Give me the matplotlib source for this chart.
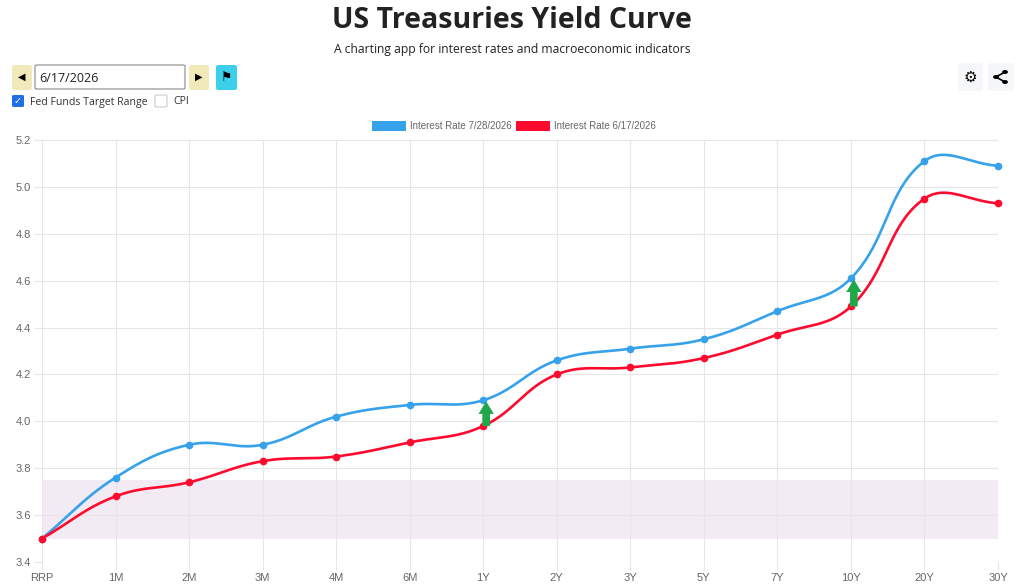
import numpy as np
import matplotlib
matplotlib.use("Agg")
from matplotlib import pyplot as plt
from matplotlib.patches import FancyBboxPatch, Rectangle, Circle

tenors = ["RRP", "1M", "2M", "3M", "4M", "6M", "1Y", "2Y", "3Y", "5Y", "7Y", "10Y", "20Y", "30Y"]
rates_new = [3.50, 3.76, 3.90, 3.90, 4.02, 4.07, 4.09, 4.26, 4.31, 4.35, 4.47, 4.61, 5.11, 5.09]
rates_old = [3.50, 3.68, 3.74, 3.83, 3.85, 3.91, 3.98, 4.20, 4.23, 4.27, 4.37, 4.49, 4.95, 4.93]
label_new = "Interest Rate 7/28/2026"
label_old = "Interest Rate 6/17/2026"
fed_low = 3.50
fed_high = 3.75
arrow_tenors = ["1Y", "10Y"]
date_text = "6/17/2026"

BLUE = "#36a2eb"
RED = "#ff0a2f"
GREEN = "#1fa84a"
plt.rcParams['font.family'] = ['Liberation Sans', 'DejaVu Sans']


def spline(xs, ys, t=0.4, sx=73.5, sy=234.4):
    # chart.js style bezier, control points worked out in pixel space
    px = np.array(xs, float) * sx
    py = np.array(ys, float) * sy
    n = len(px)
    cp_prev = np.zeros((n, 2))
    cp_next = np.zeros((n, 2))
    for i in range(n):
        a = max(i - 1, 0)
        b = min(i + 1, n - 1)
        d01 = np.hypot(px[i] - px[a], py[i] - py[a])
        d12 = np.hypot(px[b] - px[i], py[b] - py[i])
        tot = d01 + d12
        s01 = d01 / tot if tot else 0
        s12 = d12 / tot if tot else 0
        dx = px[b] - px[a]
        dy = py[b] - py[a]
        cp_prev[i] = [px[i] - t * s01 * dx, py[i] - t * s01 * dy]
        cp_next[i] = [px[i] + t * s12 * dx, py[i] + t * s12 * dy]
    outx, outy = [], []
    u = np.linspace(0, 1, 40)
    for i in range(n - 1):
        p0 = np.array([px[i], py[i]])
        p3 = np.array([px[i + 1], py[i + 1]])
        p1 = cp_next[i]
        p2 = cp_prev[i + 1]
        pts = ((1 - u) ** 3)[:, None] * p0 + (3 * (1 - u) ** 2 * u)[:, None] * p1 \
            + (3 * (1 - u) * u ** 2)[:, None] * p2 + (u ** 3)[:, None] * p3
        outx.extend(pts[:, 0] / sx)
        outy.extend(pts[:, 1] / sy)
    return np.array(outx), np.array(outy)


fig = plt.figure(figsize=(10.24, 5.85), dpi=100)
W, H = 1024, 585


def fx(x):
    return x / W


def fy(y):
    return 1 - y / H


ax = fig.add_axes([fx(42), fy(562), fx(998) - fx(42), fy(140) - fy(562)])
xs = np.arange(len(tenors))

ax.axhspan(fed_low, fed_high, color="#f3ebf3", zorder=0, lw=0)

for vals, col in [(rates_new, BLUE), (rates_old, RED)]:
    cx, cy = spline(xs, vals)
    ax.plot(cx, cy, color=col, lw=1.9, zorder=3, clip_on=False, solid_capstyle="round")
    ax.plot(xs, vals, "o", color=col, ms=4.5, zorder=4, clip_on=False)

for t in arrow_tenors:
    i = tenors.index(t)
    ax.annotate("", xy=(i + 0.04, rates_new[i] - 0.005), xytext=(i + 0.04, rates_old[i]),
                arrowprops=dict(arrowstyle="simple,head_width=1.1,head_length=0.9,tail_width=0.55",
                                color=GREEN, lw=0, shrinkA=0, shrinkB=0), zorder=5)

ax.set_xlim(0, len(tenors) - 1)
ax.set_ylim(3.4, 5.2)
ax.set_xticks(xs)
ax.set_xticklabels(tenors)
ax.set_yticks(np.arange(3.4, 5.21, 0.2))
ax.set_yticklabels(["%.1f" % v for v in np.arange(3.4, 5.21, 0.2)])
ax.grid(True, color="#e6e6e6", lw=0.8, zorder=0)
ax.set_axisbelow(True)
for s in ax.spines.values():
    s.set_visible(False)
ax.tick_params(axis="both", colors="#e6e6e6", labelcolor="#666666", labelsize=8, length=6, width=0.8, pad=2)

# legend boxes
for x0, lab, col in [(372, label_new, BLUE), (516, label_old, RED)]:
    fig.patches.append(Rectangle((fx(x0), fy(131)), 34 / W, 10 / H, transform=fig.transFigure,
                                 facecolor=col, edgecolor="none"))
    fig.text(fx(x0 + 38), fy(126), lab, fontsize=7, color="#666666", va="center", ha="left")

# title
fig.text(0.5, fy(21), "US Treasuries Yield Curve", fontsize=20.5, fontweight="bold", ha="center",
         va="center", color="#222222", family=["Open Sans", "DejaVu Sans"])
fig.text(0.5, fy(50), "A charting app for interest rates and macroeconomic indicators", fontsize=8.7,
         ha="center", va="center", color="#222222", family=["Open Sans", "DejaVu Sans"])


def box(x0, y0, w, h, fc, ec="none", r=3):
    fig.patches.append(FancyBboxPatch((fx(x0), fy(y0 + h)), w / W, h / H,
                                      boxstyle="round,pad=0,rounding_size=%f" % (r / W),
                                      transform=fig.transFigure, facecolor=fc, edgecolor=ec, lw=0.8))


# controls
box(12, 65, 20, 25, "#f0e9b9")
fig.text(fx(22), fy(77), "\u25c0", fontsize=7, ha="center", va="center", family=["DejaVu Sans"])
box(35, 65, 150, 24, "white", "#8a8a8a", 2)
fig.text(fx(39), fy(78), date_text, fontsize=9, ha="left", va="center", color="#222222",
         family=["Open Sans", "DejaVu Sans"])
box(189, 65, 20, 25, "#f0e9b9")
fig.text(fx(199), fy(77), "\u25b6", fontsize=7, ha="center", va="center", family=["DejaVu Sans"])
box(216, 65, 21, 25, "#3ccfea")
fig.text(fx(226.5), fy(77), "\u2691", fontsize=9, ha="center", va="center", family=["DejaVu Sans"])

box(12, 95, 12, 12, "#1f6fe5", r=2)
fig.text(fx(18), fy(101), "\u2713", fontsize=7, ha="center", va="center", color="white", family=["DejaVu Sans"])
fig.text(fx(30), fy(102), "Fed Funds Target Range", fontsize=7.6, ha="left", va="center", color="#333333",
         family=["Open Sans", "DejaVu Sans"])
box(155, 95, 12, 12, "white", "#cccccc", 2)
fig.text(fx(173), fy(102), "CPI", fontsize=7.6, ha="left", va="center", color="#333333",
         family=["Open Sans", "DejaVu Sans"])

# settings / share buttons
box(958, 63, 25, 28, "#f6f7f9")
fig.text(fx(970.5), fy(77), "\u2699", fontsize=11, ha="center", va="center", color="black",
         family=["DejaVu Sans"], fontweight="bold")
box(988, 63, 26, 28, "#f6f7f9")
sx0, sy0 = 996, 77
pts = [(sx0, sy0), (sx0 + 9, sy0 - 5), (sx0 + 9, sy0 + 5)]
for p in pts[1:]:
    fig.lines.append(plt.Line2D([fx(pts[0][0]), fx(p[0])], [fy(pts[0][1]), fy(p[1])],
                                transform=fig.transFigure, color="black", lw=1.2))
for p in pts:
    fig.patches.append(Circle((fx(p[0]), fy(p[1])), 2.2 / W, transform=fig.transFigure, color="black"))

fig.savefig("out.png", dpi=100)
